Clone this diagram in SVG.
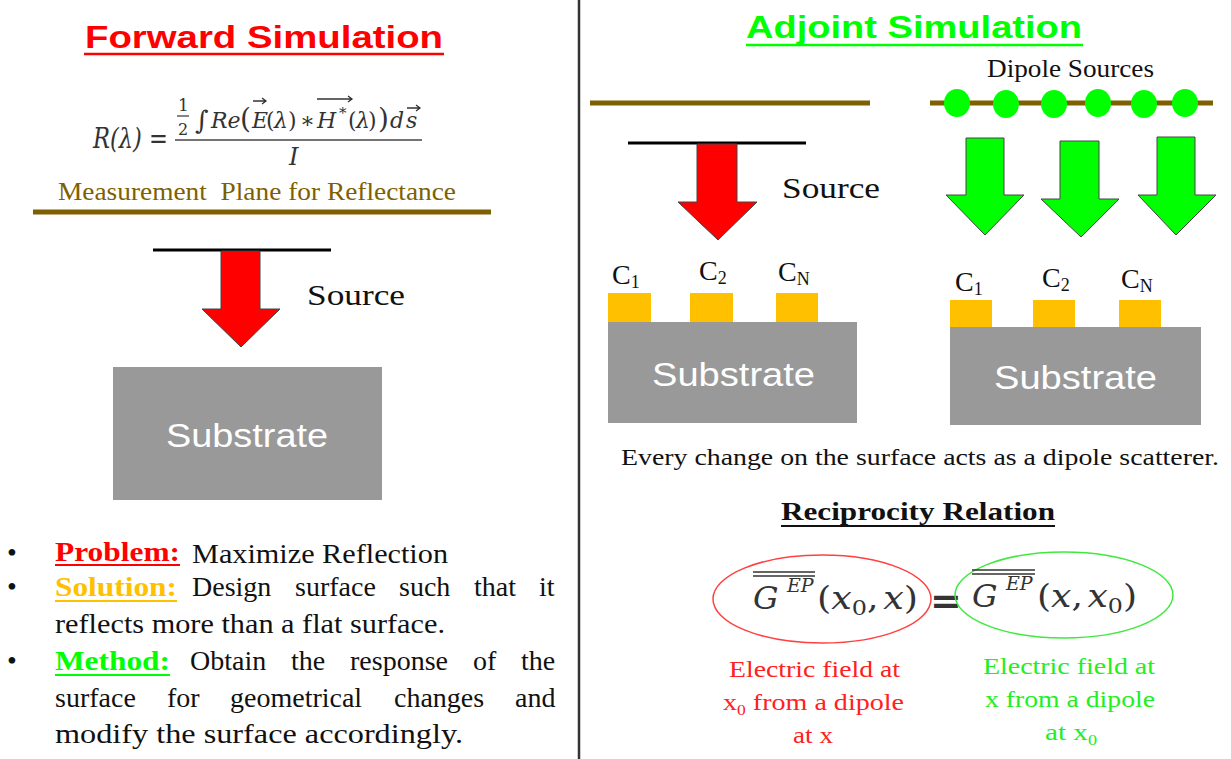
<svg xmlns="http://www.w3.org/2000/svg" width="1231" height="759" viewBox="0 0 1231 759">
<style>
  .serif{font-family:"Liberation Serif","Times New Roman",serif;}
  .sans{font-family:"Liberation Sans",Arial,sans-serif;}
  .math{font-family:"DejaVu Serif","Liberation Serif",serif;font-style:italic;fill:#333;}
  .mathup{font-family:"DejaVu Serif","Liberation Serif",serif;fill:#333;}
  .title{font-family:"Liberation Sans",Arial,sans-serif;font-weight:bold;font-size:32px;}
  .sub{font-family:"Liberation Sans",Arial,sans-serif;fill:#fff;font-size:33px;}
  .subrect{fill:#999999;}
  .gold{fill:#FFC000;}
  .body{font-family:"Liberation Serif","Times New Roman",serif;font-size:28px;fill:#111;}
  .lbl{font-family:"Liberation Serif","Times New Roman",serif;font-weight:bold;font-size:28px;}
  .brown{stroke:#7F6000;stroke-width:5;}
  .srcline{stroke:#000;stroke-width:3;}
  .redarrow{fill:#FF0000;stroke:#444;stroke-width:1;}
  .greenarrow{fill:#00FF00;stroke:#444;stroke-width:1;}
  .dot{fill:#00FF00;}
  .clabel{font-family:"Liberation Serif","Times New Roman",serif;font-size:28px;fill:#111;}
</style>

<!-- divider -->
<g id="divider"><line x1="579" y1="0" x2="579" y2="759" stroke="#333" stroke-width="2.5"/></g>

<!-- Forward simulation -->
<g id="forward-title">
  <text class="title" x="85" y="48" fill="#FF0000" textLength="358" lengthAdjust="spacingAndGlyphs">Forward Simulation</text>
  <line x1="84" y1="54" x2="444" y2="54" stroke="#FF0000" stroke-width="2.5"/>
</g>

<g id="reflectance-formula">
  <text class="math" x="93" y="148" font-size="27" textLength="75" lengthAdjust="spacingAndGlyphs">R(λ) =</text>
  <text class="mathup" x="178" y="111" font-size="17">1</text>
  <line x1="177" y1="116" x2="189" y2="116" stroke="#333" stroke-width="1.2"/>
  <text class="mathup" x="178" y="135" font-size="16">2</text>
  <text class="mathup" x="195" y="129" font-size="26">∫</text>
  <text class="math" y="128" font-size="22"><tspan x="211">Re</tspan><tspan x="240" font-size="28" font-style="normal">(</tspan><tspan x="252">E</tspan><tspan x="266" font-style="normal">(</tspan><tspan x="274">λ</tspan><tspan x="288" font-style="normal">)</tspan><tspan x="300" font-style="normal">∗</tspan><tspan x="317">H</tspan></text>
  <text class="math" x="339" y="118" font-size="15">*</text>
  <text class="math" y="128" font-size="22"><tspan x="348" font-style="normal">(</tspan><tspan x="356">λ</tspan><tspan x="368" font-style="normal">)</tspan></text>
  <text class="mathup" x="378" y="128" font-size="28">)</text>
  <text class="math" y="128" font-size="22"><tspan x="390">d</tspan><tspan x="406">s</tspan></text>
  <path d="M253 101 H266 M262 98 L266 101 L262 104" fill="none" stroke="#333" stroke-width="1.3"/>
  <path d="M317 99 H352 M348 96 L352 99 L348 102" fill="none" stroke="#333" stroke-width="1.3"/>
  <path d="M407 108 H420 M416 105 L420 108 L416 111" fill="none" stroke="#333" stroke-width="1.3"/>
  <line x1="175" y1="140" x2="422" y2="140" stroke="#444" stroke-width="1.5"/>
  <text class="math" x="289" y="165" font-size="24">I</text>
</g>

<g id="measurement-plane">
  <text class="serif" x="58" y="200" font-size="26" fill="#7F6000" xml:space="preserve" textLength="398" lengthAdjust="spacingAndGlyphs">Measurement  Plane for Reflectance</text>
  <line class="brown" x1="33" y1="212" x2="491" y2="212" stroke-width="4"/>
</g>

<g id="forward-source">
  <line class="srcline" x1="153" y1="250" x2="331" y2="250"/>
  <text class="serif" x="307" y="305" font-size="30" fill="#111" textLength="98" lengthAdjust="spacingAndGlyphs">Source</text>
</g>

<g id="forward-substrate">
  <rect class="subrect" x="113" y="367" width="269" height="133"/>
  <text class="sub" x="166" y="447" font-size="35" textLength="162" lengthAdjust="spacingAndGlyphs">Substrate</text>
</g>

<g id="forward-bullets">
  <text class="body" x="7" y="562" fill="#FF0000">•</text>
  <text class="lbl" x="55" y="561" fill="#FF0000" textLength="125" lengthAdjust="spacingAndGlyphs">Problem:</text>
  <line x1="55" y1="565" x2="180" y2="565" stroke="#FF0000" stroke-width="2"/>
  <text class="body" x="192" y="563" textLength="256" lengthAdjust="spacingAndGlyphs">Maximize Reflection</text>

  <text class="body" x="7" y="596" fill="#FFC000">•</text>
  <text class="lbl" x="55" y="596" fill="#FFC000" textLength="122" lengthAdjust="spacingAndGlyphs">Solution:</text>
  <line x1="55" y1="601" x2="177" y2="601" stroke="#FFC000" stroke-width="2"/>
  <text class="body" y="596"><tspan x="192">Design</tspan><tspan x="295">surface</tspan><tspan x="399">such</tspan><tspan x="474">that</tspan><tspan x="539">it</tspan></text>
  <text class="body" x="55" y="633" textLength="390" lengthAdjust="spacingAndGlyphs">reflects more than a flat surface.</text>

  <text class="body" x="7" y="670" fill="#00FF00">•</text>
  <text class="lbl" x="55" y="670" fill="#00FF00" textLength="115" lengthAdjust="spacingAndGlyphs">Method:</text>
  <line x1="55" y1="675" x2="170" y2="675" stroke="#00FF00" stroke-width="2"/>
  <text class="body" y="670"><tspan x="190">Obtain</tspan><tspan x="291">the</tspan><tspan x="350">response</tspan><tspan x="473">of</tspan><tspan x="521">the</tspan></text>
  <text class="body" y="707"><tspan x="55">surface</tspan><tspan x="167">for</tspan><tspan x="230">geometrical</tspan><tspan x="394">changes</tspan><tspan x="515">and</tspan></text>
  <text class="body" x="55" y="743" textLength="408" lengthAdjust="spacingAndGlyphs">modify the surface accordingly.</text>
</g>

<!-- Adjoint simulation -->
<g id="adjoint-title">
  <text class="title" x="746" y="38" fill="#00FF00" textLength="336" lengthAdjust="spacingAndGlyphs">Adjoint Simulation</text>
  <line x1="746" y1="45" x2="1083" y2="45" stroke="#00FF00" stroke-width="2.5"/>
</g>

<g id="adjoint-source">
  <line class="brown" x1="590" y1="103" x2="870" y2="103"/>
  <line class="srcline" x1="628" y1="143" x2="806" y2="143"/>
  <text class="serif" x="782" y="198" font-size="30" fill="#111" textLength="98" lengthAdjust="spacingAndGlyphs">Source</text>
</g>

<g id="adjoint-structure-left">
  <rect class="gold" x="608" y="293" width="43" height="29"/>
  <rect class="gold" x="690" y="293" width="43" height="29"/>
  <rect class="gold" x="776" y="293" width="42" height="29"/>
  <rect class="subrect" x="608" y="322" width="249" height="101"/>
  <text class="sub" x="652" y="386" textLength="163" lengthAdjust="spacingAndGlyphs">Substrate</text>
  <text class="clabel" x="612" y="284">C<tspan font-size="18" dy="4">1</tspan></text>
  <text class="clabel" x="699" y="280">C<tspan font-size="18" dy="4">2</tspan></text>
  <text class="clabel" x="778" y="281">C<tspan font-size="18" dy="4">N</tspan></text>
</g>

<g id="dipole-sources">
  <text class="serif" x="987" y="77" font-size="25" fill="#111" textLength="167" lengthAdjust="spacingAndGlyphs">Dipole Sources</text>
  <line class="brown" x1="930" y1="103" x2="1213" y2="103"/>
  <ellipse class="dot" cx="957" cy="103" rx="13" ry="14"/>
  <ellipse class="dot" cx="1006" cy="104" rx="13" ry="14"/>
  <ellipse class="dot" cx="1054" cy="104" rx="13" ry="14"/>
  <ellipse class="dot" cx="1098" cy="103" rx="13" ry="14"/>
  <ellipse class="dot" cx="1144" cy="104" rx="13" ry="14"/>
  <ellipse class="dot" cx="1185" cy="103" rx="13" ry="14"/>
</g>

<g id="adjoint-structure-right">
  <rect class="gold" x="950" y="300" width="42" height="27"/>
  <rect class="gold" x="1033" y="300" width="42" height="27"/>
  <rect class="gold" x="1119" y="300" width="42" height="27"/>
  <rect class="subrect" x="950" y="327" width="251" height="98"/>
  <text class="sub" x="994" y="389" textLength="163" lengthAdjust="spacingAndGlyphs">Substrate</text>
  <text class="clabel" x="955" y="291">C<tspan font-size="18" dy="4">1</tspan></text>
  <text class="clabel" x="1042" y="287">C<tspan font-size="18" dy="4">2</tspan></text>
  <text class="clabel" x="1121" y="288">C<tspan font-size="18" dy="4">N</tspan></text>
</g>

<g id="scatterer-note">
  <text class="serif" x="621" y="465" font-size="23" fill="#111" textLength="598" lengthAdjust="spacingAndGlyphs">Every change on the surface acts as a dipole scatterer.</text>
</g>

<g id="reciprocity">
  <text class="serif" x="781" y="520" font-size="26" font-weight="bold" fill="#111" textLength="274" lengthAdjust="spacingAndGlyphs">Reciprocity Relation</text>
  <line x1="781" y1="526" x2="1055" y2="526" stroke="#111" stroke-width="2"/>
</g>

<g id="green-function-red">
  <ellipse cx="822" cy="599" rx="109" ry="44" fill="none" stroke="#FF4040" stroke-width="1.5"/>
  <line x1="753" y1="572" x2="815" y2="572" stroke="#333" stroke-width="1.5"/>
  <line x1="753" y1="576" x2="815" y2="576" stroke="#333" stroke-width="1.5"/>
  <text class="math" x="753" y="609" font-size="32">G</text>
  <text class="math" x="787" y="592" font-size="19">EP</text>
  <text class="math" x="817" y="609" font-size="32" textLength="101" lengthAdjust="spacingAndGlyphs"><tspan font-style="normal">(</tspan><tspan>x</tspan><tspan font-style="normal" font-size="21" dy="6">0</tspan><tspan font-style="normal" dy="-6">,</tspan><tspan dx="4">x</tspan><tspan font-style="normal">)</tspan></text>
  <text class="serif" x="729" y="677" font-size="24" fill="#FF2020" textLength="171" lengthAdjust="spacingAndGlyphs">Electric field at</text>
  <text class="serif" x="723" y="710" font-size="24" fill="#FF2020" textLength="181" lengthAdjust="spacingAndGlyphs">x<tspan font-size="15" dy="5">0</tspan><tspan dy="-5"> from a dipole</tspan></text>
  <text class="serif" x="793" y="743" font-size="24" fill="#FF2020" textLength="40" lengthAdjust="spacingAndGlyphs">at x</text>
</g>

<g id="equals">
  <text class="mathup" x="946" y="614" font-size="38" font-weight="bold" text-anchor="middle">=</text>
</g>

<g id="green-function-green">
  <ellipse cx="1064" cy="595" rx="109" ry="43" fill="none" stroke="#40E840" stroke-width="1.5"/>
  <line x1="972" y1="570" x2="1035" y2="570" stroke="#333" stroke-width="1.5"/>
  <line x1="972" y1="574" x2="1035" y2="574" stroke="#333" stroke-width="1.5"/>
  <text class="math" x="972" y="607" font-size="32">G</text>
  <text class="math" x="1006" y="590" font-size="19">EP</text>
  <text class="math" x="1037" y="607" font-size="32" textLength="100" lengthAdjust="spacingAndGlyphs"><tspan font-style="normal">(</tspan><tspan>x</tspan><tspan font-style="normal">,</tspan><tspan dx="4">x</tspan><tspan font-style="normal" font-size="21" dy="6">0</tspan><tspan font-style="normal" dy="-6">)</tspan></text>
  <text class="serif" x="983" y="674" font-size="24" fill="#22EE22" textLength="172" lengthAdjust="spacingAndGlyphs">Electric field at</text>
  <text class="serif" x="985" y="707" font-size="24" fill="#22EE22" textLength="170" lengthAdjust="spacingAndGlyphs">x from a dipole</text>
  <text class="serif" x="1045" y="740" font-size="24" fill="#22EE22" textLength="52" lengthAdjust="spacingAndGlyphs">at x<tspan font-size="15" dy="5">0</tspan></text>
</g>

<!-- source arrows -->
<g id="connectors">
  <polygon class="redarrow" points="221,251 260,251 260,309 280,309 241,347 202,309 221,309"/>
  <polygon class="redarrow" points="697,144 737,144 737,202 757,202 718,240 678,202 697,202"/>
  <polygon class="greenarrow" points="966,138 1004,138 1004,195 1024,195 985,235 946,195 966,195"/>
  <polygon class="greenarrow" points="1060,141 1099,141 1099,199 1119,199 1081,237 1041,199 1060,199"/>
  <polygon class="greenarrow" points="1157,137 1195,137 1195,195 1216,195 1176,235 1138,195 1157,195"/>
</g>
</svg>
